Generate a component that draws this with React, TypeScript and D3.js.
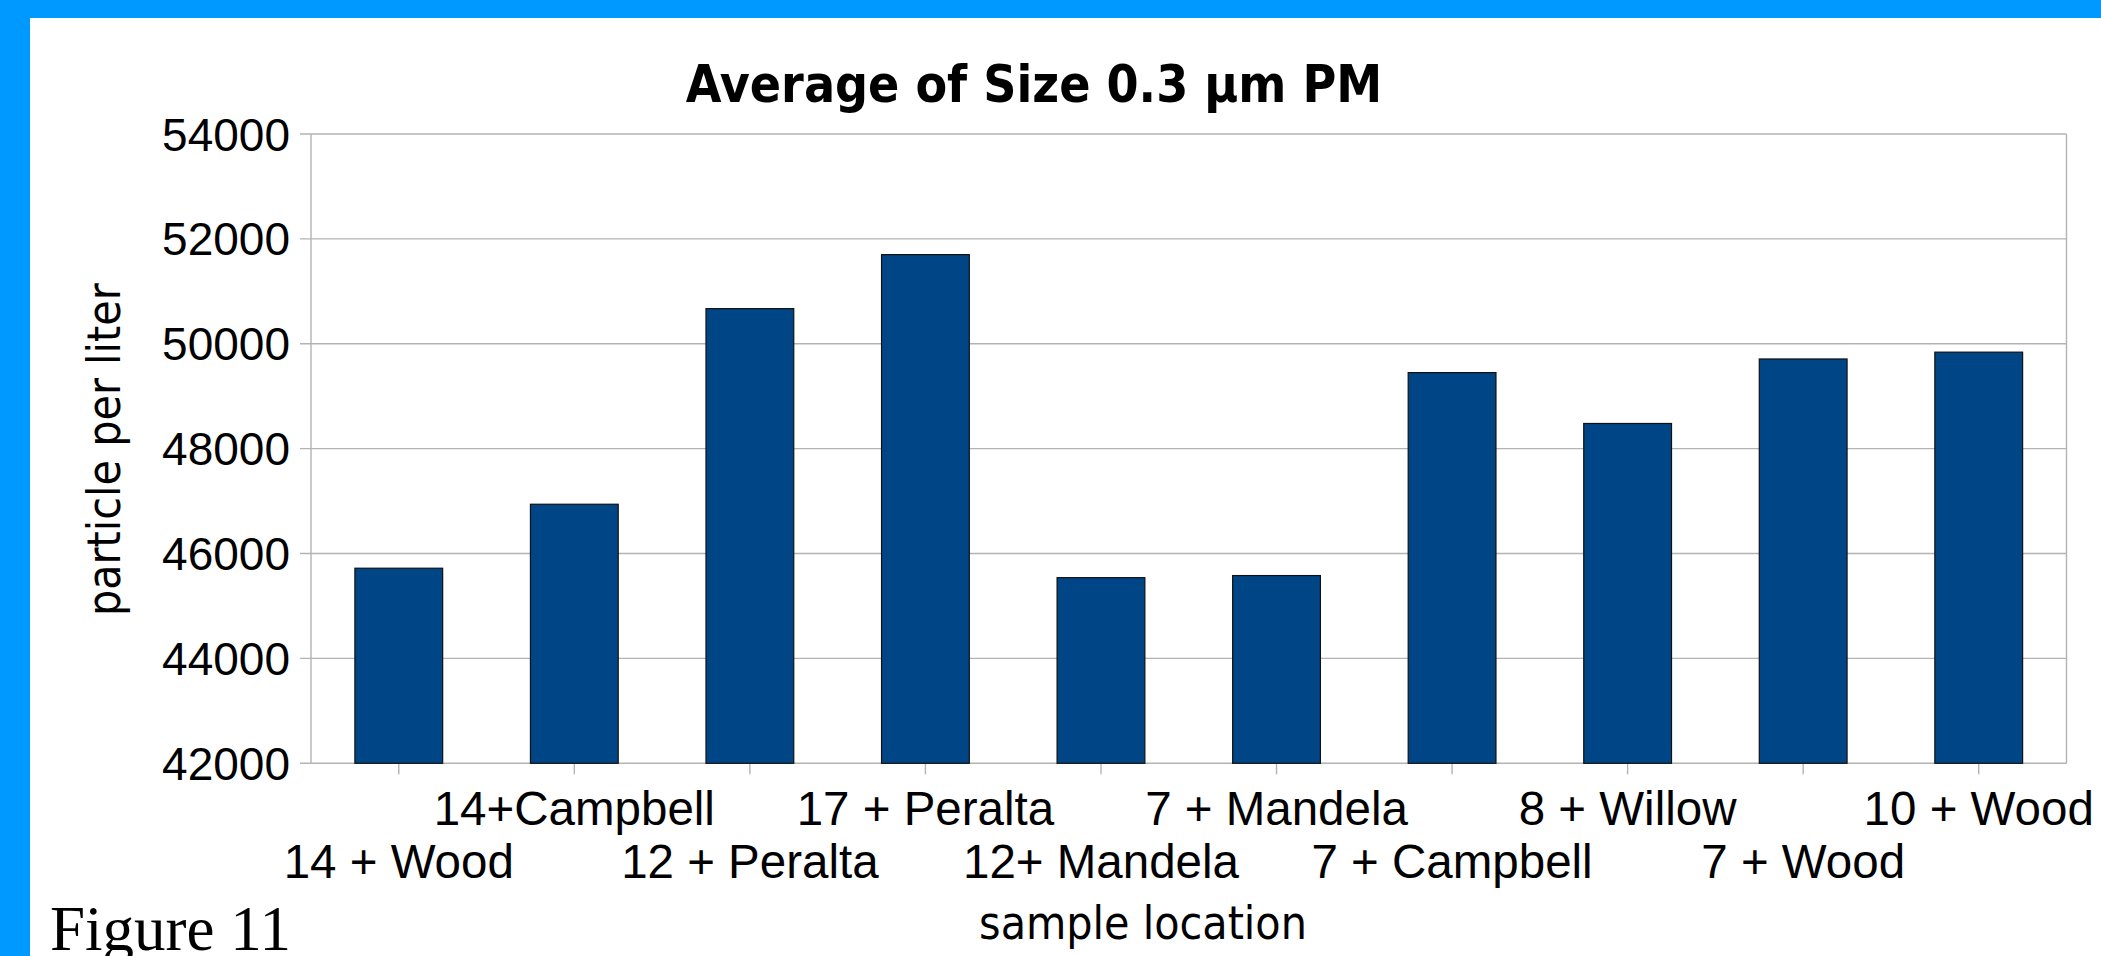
import React from "react";
import * as d3 from "d3";

const categories = [
  "14 + Wood",
  "14+Campbell",
  "12 + Peralta",
  "17 + Peralta",
  "12+ Mandela",
  "7 + Mandela",
  "7 + Campbell",
  "8 + Willow",
  "7 + Wood",
  "10 + Wood",
];
const values = [45720, 46940, 50670, 51700, 45540, 45580, 49450, 48480, 49710, 49840];
const yTicks = [42000, 44000, 46000, 48000, 50000, 52000, 54000];
const title = "Average of Size 0.3 µm PM";
const yLabel = "particle per liter";
const xLabel = "sample location";
const figureLabel = "Figure 11";

const W = 2101;
const H = 956;
const plot = { left: 311, right: 2066.5, top: 134, bottom: 763.3 };
const condensed = "'DejaVu Sans Condensed', 'DejaVu Sans', sans-serif";
const arial = "'Liberation Sans', Arial, sans-serif";

export default function App() {
  const x = d3
    .scaleBand<string>()
    .domain(categories)
    .range([plot.left, plot.right])
    .paddingInner(0.5)
    .paddingOuter(0.25);
  const xc = d3.scalePoint<string>().domain(categories).range([plot.left, plot.right]).padding(0.5);
  const y = d3.scaleLinear().domain([42000, 54000]).range([plot.bottom, plot.top]);

  return (
    <svg
      width={W}
      height={H}
      style={{ position: "absolute", left: 0, top: 0, display: "block" }}
    >
      <rect x={0} y={0} width={W} height={H} fill="#0099ff" />
      <rect x={30} y={18} width={W - 30} height={H - 18} fill="#ffffff" />

      {/* gridlines */}
      {yTicks.map((t) => (
        <line
          key={"g" + t}
          x1={plot.left - 11}
          x2={plot.right}
          y1={y(t)}
          y2={y(t)}
          stroke="#b3b3b3"
          strokeWidth={1.4}
        />
      ))}
      <line x1={plot.left} x2={plot.left} y1={plot.top} y2={plot.bottom} stroke="#b3b3b3" strokeWidth={1.4} />
      <line x1={plot.right} x2={plot.right} y1={plot.top} y2={plot.bottom} stroke="#b3b3b3" strokeWidth={1.4} />

      {/* x ticks */}
      {categories.map((c) => (
        <line
          key={"xt" + c}
          x1={xc(c)}
          x2={xc(c)}
          y1={plot.bottom}
          y2={plot.bottom + 11}
          stroke="#b3b3b3"
          strokeWidth={1.4}
        />
      ))}

      {/* bars */}
      {categories.map((c, i) => (
        <rect
          key={"b" + c}
          x={x(c)}
          y={y(values[i])}
          width={x.bandwidth()}
          height={plot.bottom - y(values[i])}
          fill="#004586"
          stroke="#111111"
          strokeWidth={1.2}
        />
      ))}

      {/* y tick labels */}
      {yTicks.map((t) => (
        <text
          key={"yl" + t}
          x={290}
          y={y(t) + 16.5}
          textAnchor="end"
          fontFamily={arial}
          fontSize={46}
          fill="#000"
        >
          {t}
        </text>
      ))}

      {/* x tick labels, staggered */}
      {categories.map((c, i) => (
        <text
          key={"xl" + c}
          x={xc(c)}
          y={i % 2 === 1 ? 825 : 878}
          textAnchor="middle"
          fontFamily={arial}
          fontSize={47.5}
          fill="#000"
        >
          {c}
        </text>
      ))}

      {/* title */}
      <text
        x={1034}
        y={102}
        textAnchor="middle"
        fontFamily={condensed}
        fontStretch="condensed"
        fontWeight="bold"
        fontSize={51.3}
        fill="#000"
      >
        {title}
      </text>

      {/* axis titles */}
      <text
        transform={`translate(120, ${(plot.top + plot.bottom) / 2 + 1}) rotate(-90)`}
        textAnchor="middle"
        fontFamily={condensed}
        fontStretch="condensed"
        fontSize={46}
        fill="#000"
      >
        {yLabel}
      </text>
      <text
        x={1143}
        y={939}
        textAnchor="middle"
        fontFamily={condensed}
        fontStretch="condensed"
        fontSize={46}
        fill="#000"
      >
        {xLabel}
      </text>

      <text x={50} y={950} fontFamily="'Liberation Serif', 'Times New Roman', serif" fontSize={63} fill="#000">
        {figureLabel}
      </text>
    </svg>
  );
}
